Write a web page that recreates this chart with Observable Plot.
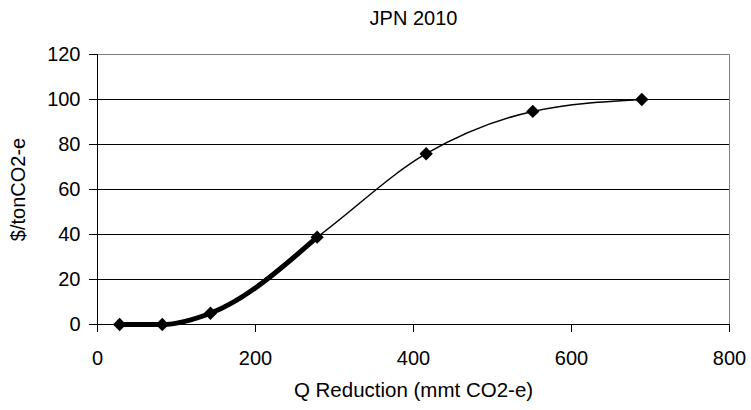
<!DOCTYPE html>
<html>
<head>
<meta charset="utf-8">
<script src="https://cdn.jsdelivr.net/npm/d3@7"></script>
<script src="https://cdn.jsdelivr.net/npm/@observablehq/plot@0.6"></script>
<style>
  html, body { margin: 0; padding: 0; background: #fff; }
</style>
</head>
<body>
<div id="chart"></div>
<script>
const title = "JPN 2010";
const xTitle = "Q Reduction (mmt CO2-e)";
const yTitle = "$/tonCO2-e";
const qReduction = [28, 82, 143, 278, 416, 551, 689];
const price = [0, 0, 5, 38.8, 75.9, 94.7, 100];
const thickCount = 4;
const xTicks = [0, 200, 400, 600, 800];
const yTicks = [0, 20, 40, 60, 80, 100, 120];
const gridTicks = [20, 40, 60, 80, 100];

const data = qReduction.map((q, i) => ({q, p: price[i]}));
const thick = data.slice(0, thickCount);

const chart = Plot.plot({
  width: 751,
  height: 410,
  marginLeft: 97,
  marginRight: 22,
  marginTop: 54,
  marginBottom: 86,
  style: {fontFamily: "'Liberation Sans', Arial, sans-serif", fontSize: "20px", color: "#000", background: "#fff"},
  x: {domain: [0, 800]},
  y: {domain: [0, 120]},
  marks: [
    Plot.gridY(gridTicks, {stroke: "#000", strokeOpacity: 1, strokeWidth: 1}),
    Plot.frame({stroke: "#808080", strokeWidth: 1}),
    Plot.axisX(xTicks, {tickSize: 8, tickPadding: 18, label: null, fontSize: 20, stroke: "#000"}),
    Plot.axisY(yTicks, {tickSize: 8, tickPadding: 9, label: null, fontSize: 20, stroke: "#000"}),
    Plot.ruleX([0], {stroke: "#000", strokeWidth: 1}),
    Plot.ruleY([0], {stroke: "#000", strokeWidth: 1}),
    Plot.line(data, {x: "q", y: "p", curve: "monotone-x", stroke: "#000", strokeWidth: 1.5}),
    Plot.line(thick, {x: "q", y: "p", curve: "monotone-x", stroke: "#000", strokeWidth: 5}),
    Plot.dot(data, {x: "q", y: "p", symbol: "diamond2", r: 6, fill: "#000", stroke: "none"}),
    Plot.text([title], {frameAnchor: "top", dy: -36, fontSize: 20, lineAnchor: "middle", fill: "#000"}),
    Plot.text([xTitle], {frameAnchor: "bottom", dy: 66, fontSize: 20.5, lineAnchor: "middle", textAnchor: "middle", fill: "#000"}),
    Plot.text([yTitle], {frameAnchor: "middle", dx: -395, rotate: -90, fontSize: 20, lineAnchor: "middle", textAnchor: "middle", fill: "#000"})
  ]
});
document.getElementById("chart").appendChild(chart);
</script>
</body>
</html>
